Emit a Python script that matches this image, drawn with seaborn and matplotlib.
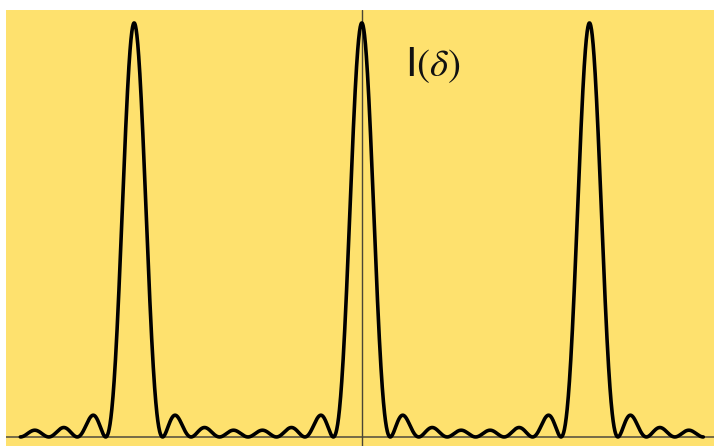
import numpy as np
import pandas as pd
import matplotlib
matplotlib.use("Agg")
import matplotlib.pyplot as plt
import seaborn as sns

# grating with N slits: I(delta) = sin^2(N delta/2) / sin^2(delta/2)
n_slits = 8
delta_min, delta_max = -3 * np.pi, 3 * np.pi
label = r"I$(\delta)$"

delta = np.linspace(delta_min, delta_max, 3001)
num = np.sin(n_slits * delta / 2) ** 2
den = np.sin(delta / 2) ** 2
intensity = np.where(den < 1e-12, n_slits ** 2, num / np.maximum(den, 1e-12))
df = pd.DataFrame({"delta": delta, "I": intensity})

sns.set_style("white")
plt.rcParams["mathtext.fontset"] = "stix"

fig = plt.figure(figsize=(7.14, 4.46), dpi=100)
ax = fig.add_axes([6 / 714, 0, 708 / 714, 436 / 446])
ax.set_facecolor("#fee16e")

ax.axhline(0, color="#5e5640", lw=1.2, zorder=1)
ax.axvline(0, color="#4a4535", lw=1.0, zorder=1)
sns.lineplot(data=df, x="delta", y="I", color="black", lw=2.6, ax=ax, zorder=3)

ax.text(1.19, 55.8, label, fontsize=28, color="#111111", family="DejaVu Sans")

ax.set_xlim(-9.82, 9.72)
ax.set_ylim(-1.4, 66)
ax.set_xticks([])
ax.set_yticks([])
ax.set_xlabel("")
ax.set_ylabel("")
for s in ax.spines.values():
    s.set_visible(False)

fig.savefig("out.png", dpi=100, facecolor="white")
